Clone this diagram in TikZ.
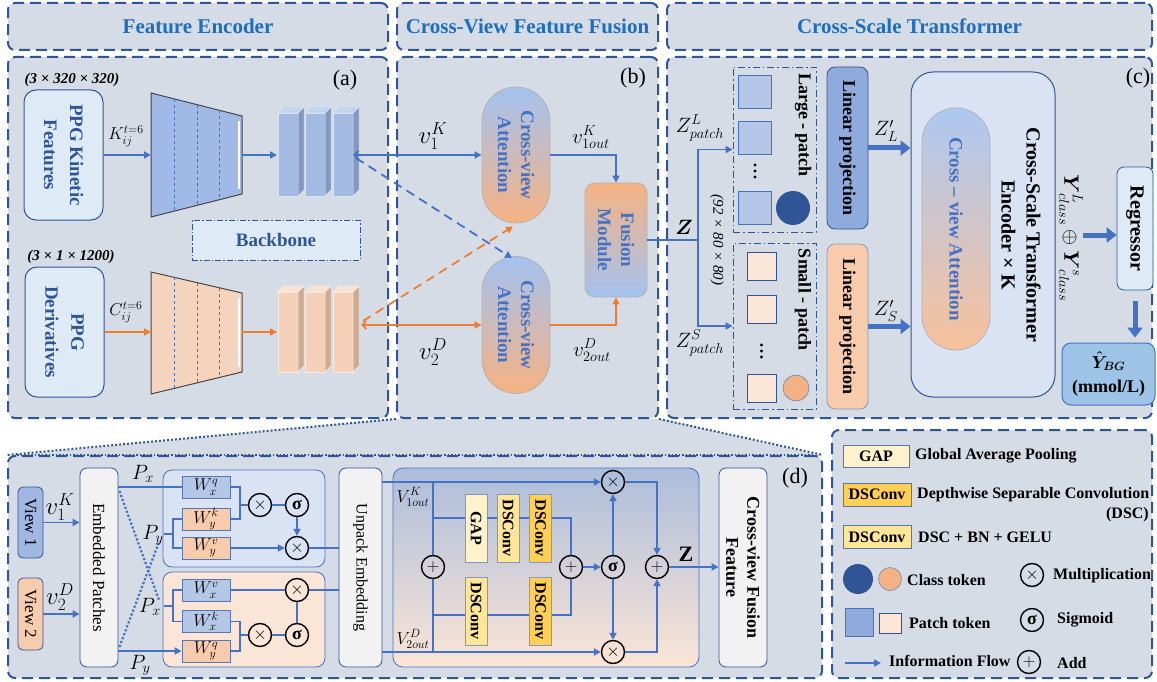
\documentclass[tikz,border=0pt]{standalone}
\usepackage{amsmath}
\usepackage{fontspec}
\setmainfont{Liberation Serif}
\usetikzlibrary{arrows.meta,calc,positioning}

\definecolor{panelbg}{RGB}{214,220,230}
\definecolor{frame}{RGB}{47,85,151}
\definecolor{headblue}{RGB}{28,110,192}
\definecolor{flowblue}{RGB}{68,114,196}
\definecolor{floworange}{RGB}{237,125,49}
\definecolor{lightbox}{RGB}{222,235,247}
\definecolor{blueblk}{RGB}{163,186,226}
\definecolor{blueside}{RGB}{132,152,192}
\definecolor{bluetop}{RGB}{196,212,238}
\definecolor{orblk}{RGB}{244,208,184}
\definecolor{orside}{RGB}{205,170,148}
\definecolor{ortop}{RGB}{250,226,210}
\definecolor{trapblue}{RGB}{160,185,230}
\definecolor{traporange}{RGB}{245,212,190}
\definecolor{attblue}{RGB}{164,194,240}
\definecolor{attorange}{RGB}{246,178,130}
\definecolor{lpblue}{RGB}{143,170,220}
\definecolor{lporange}{RGB}{248,203,173}
\definecolor{sqblue}{RGB}{180,199,231}
\definecolor{sqorange}{RGB}{251,229,214}
\definecolor{clsorange}{RGB}{244,177,131}
\definecolor{encfill}{RGB}{218,227,243}
\definecolor{outfill}{RGB}{157,195,230}
\definecolor{gapfill}{RGB}{255,242,204}
\definecolor{dsclight}{RGB}{255,230,153}
\definecolor{dscdark}{RGB}{255,208,85}
\definecolor{paper}{RGB}{242,242,242}

\begin{document}
\begin{tikzpicture}[x=1pt,y=-1pt]
    \tikzstyle{panel} = [draw=frame, line width=2pt, dash pattern=on 11pt off 6pt, rounded corners=7pt, fill=panelbg, inner sep=0pt]
    \tikzstyle{hdr} = [font=\bfseries\fontsize{21}{24}\selectfont, text=headblue]
    \tikzstyle{ptag} = [font=\fontsize{22}{24}\selectfont, inner sep=0pt]
    \tikzstyle{inbox} = [draw=frame, line width=1pt, fill=lightbox, rounded corners=12pt]
    \tikzstyle{vtxt} = [rotate=-90, align=center, inner sep=0pt]
    \tikzstyle{flowB} = [draw=flowblue, line width=1.8pt, -{Triangle[length=7pt,width=7pt]}]
    \tikzstyle{flowO} = [draw=floworange, line width=1.8pt, -{Triangle[length=7pt,width=7pt]}]
    \tikzstyle{wire} = [draw=flowblue, line width=1.5pt]
    \tikzstyle{fat} = [draw=flowblue, line width=5pt, -{Triangle[length=10pt,width=15pt]}]
    \tikzstyle{lbl} = [font=\fontsize{18}{20}\selectfont, inner sep=0pt]
    \tikzstyle{op} = [circle, draw=black, line width=1.4pt, minimum size=23pt, inner sep=0pt, font=\fontsize{18}{18}\selectfont]
    \tikzstyle{wbox} = [draw=frame!80, line width=0.8pt, minimum width=48pt, minimum height=22pt, inner sep=0pt, font=\fontsize{18}{18}\selectfont]
    \tikzstyle{dsc} = [draw=frame!60, line width=0.8pt, minimum width=22pt, minimum height=68pt, inner sep=0pt]
    \tikzstyle{legtxt} = [anchor=west, font=\bfseries\fontsize{16}{18}\selectfont, inner sep=0pt]
    \tikzstyle{dashdot} = [draw=frame, line width=0.9pt, dash pattern=on 7pt off 3pt on 1.5pt off 3pt]

    \useasboundingbox (0,0) rectangle (1157,682);
    \fill[white] (0,0) rectangle (1157,682);

    % Headers .........................
    \node[panel, hdr, minimum width=380pt, minimum height=47pt] (hA) at (198,26.5) {Feature Encoder};
    \node[panel, hdr, minimum width=261pt, minimum height=47pt] (hB) at (527.5,26.5) {Cross-View Feature Fusion};
    \node[panel, hdr, minimum width=485pt, minimum height=47pt] (hC) at (909.5,26.5) {Cross-Scale Transformer};

    % Panels .........................
    \fill[panelbg] (397,419) -- (660,419) -- (822,456) -- (8,456) -- cycle;
    \node[panel, minimum width=380pt, minimum height=361pt] (pA) at (198,237.5) {};
    \node[panel, minimum width=261pt, minimum height=361pt] (pB) at (527.5,237.5) {};
    \node[panel, minimum width=485pt, minimum height=361pt] (pC) at (909.5,237.5) {};
    \node[panel, minimum width=814pt, minimum height=222pt] (pD) at (415,567) {};
    \node[panel, minimum width=320pt, minimum height=248pt] (pL) at (992,554) {};
    \draw[frame, line width=2pt, dotted] (pB.south west) -- (pD.north west);
    \draw[frame, line width=2pt, dotted] (pB.south east) -- (pD.north east);
    \draw[frame, line width=1.5pt, dotted] ($(pD.north west)+(10,0)$) -- ($(pD.north east)+(-10,0)$);

    \node[ptag] (tA) at (345,80) {(a)};
    \node[ptag] (tB) at (633,78) {(b)};
    \node[ptag] (tC) at (1138,78) {(c)};
    \node[ptag] (tD) at (795,478) {(d)};

    % Feature encoder (a) .........................
    \node[font=\bfseries\itshape\fontsize{15}{17}\selectfont] (dimK) at (72,80) {(3 × 320 × 320)};
    \node[font=\bfseries\itshape\fontsize{15}{17}\selectfont] (dimD) at (71,257) {(3 × 1 × 1200)};
    \node[inbox, minimum width=79pt, minimum height=130pt] (kin) at (63.5,155) {};
    \node[vtxt, text=frame, font=\bfseries\fontsize{19}{26}\selectfont] at (kin) {PPG Kinetic\\Features};
    \node[inbox, minimum width=79pt, minimum height=130pt] (der) at (64.5,332) {};
    \node[vtxt, text=frame, font=\bfseries\fontsize{19}{26}\selectfont] at (der) {PPG\\Derivatives};
    \node[draw=frame, line width=0.8pt, dash pattern=on 6pt off 2pt on 1.5pt off 2pt, fill=lightbox, minimum width=168pt, minimum height=40pt, text=frame, font=\bfseries\fontsize{19}{21}\selectfont] (bb) at (276,240) {Backbone};

    \coordinate (kA) at (151,93);  \coordinate (kB) at (242,116);
    \coordinate (kC) at (242,194); \coordinate (kD) at (151,217);
    \coordinate (dA) at (151,272); \coordinate (dB) at (242,293);
    \coordinate (dC) at (242,372); \coordinate (dD) at (151,394);
    \filldraw[fill=trapblue, draw=gray!55!black, line width=1pt] (kA) -- (kB) -- (kC) -- (kD) -- cycle;
    \filldraw[fill=traporange, draw=gray!55!black, line width=1pt] (dA) -- (dB) -- (dC) -- (dD) -- cycle;
    \draw[white, line width=1.5pt] ($(kB)+(-3,5)$) -- ($(kC)+(-3,-5)$);
    \draw[white, line width=1.5pt] ($(dB)+(-3,5)$) -- ($(dC)+(-3,-5)$);
    \foreach \t in {0.26,0.51,0.75} {
        \draw[flowblue, dashed, line width=0.6pt] ($(kA)!\t!(kB)$) -- ($(kD)!\t!(kC)$);
        \draw[flowblue, dashed, line width=0.6pt] ($(dA)!\t!(dB)$) -- ($(dD)!\t!(dC)$);
    }

    \foreach \x in {278,305,333} {
        \filldraw[fill=blueblk, draw=white!60!blueblk, line width=0.5pt] (\x,113) rectangle ++(20,83);
        \filldraw[fill=blueside, draw=white!60!blueblk, line width=0.5pt] (\x+20,113) -- ++(6,-6) -- ++(0,83) -- ++(-6,6) -- cycle;
        \filldraw[fill=bluetop, draw=white!60!blueblk, line width=0.5pt] (\x,113) -- ++(6,-6) -- ++(20,0) -- ++(-6,6) -- cycle;
        \filldraw[fill=orblk, draw=white!60!orblk, line width=0.5pt] (\x,292) rectangle ++(20,80);
        \filldraw[fill=orside, draw=white!60!orblk, line width=0.5pt] (\x+20,292) -- ++(6,-6) -- ++(0,80) -- ++(-6,6) -- cycle;
        \filldraw[fill=ortop, draw=white!60!orblk, line width=0.5pt] (\x,292) -- ++(6,-6) -- ++(20,0) -- ++(-6,6) -- cycle;
    }
    \coordinate (blkKin) at (277,155);  \coordinate (blkKout) at (353,155);
    \coordinate (blkDin) at (277,332);  \coordinate (blkDout) at (361,325);

    \draw[flowB] (kin.east) -- (kin.east -| kA);
    \draw[flowO] (der.east) -- (der.east -| dA);
    \draw[flowB] (kin.east -| kB) -- (blkKin);
    \draw[flowO] (der.east -| dB) -- (blkDin);
    \node[lbl, font=\fontsize{18}{20}\selectfont] (kLbl) at (126,136) {$K_{ij}^{t=6}$};
    \node[lbl, font=\fontsize{18}{20}\selectfont] (cLbl) at (126,312) {$C_{ij}^{t=6}$};

    % Cross-view fusion (b) .........................
    \node[draw=gray!60, line width=0.8pt, rounded corners=34pt, top color=attblue, bottom color=attorange, minimum width=68pt, minimum height=136pt] (cvaK) at (516,155) {};
    \node[vtxt, text=flowblue, font=\bfseries\fontsize{19}{23}\selectfont] at (cvaK) {Cross-view\\Attention};
    \node[draw=gray!60, line width=0.8pt, rounded corners=34pt, top color=attblue, bottom color=attorange, minimum width=68pt, minimum height=137pt] (cvaD) at (516,325) {};
    \node[vtxt, text=flowblue, font=\bfseries\fontsize{19}{23}\selectfont] at (cvaD) {Cross-view\\Attention};
    \node[draw=gray!60, line width=0.8pt, rounded corners=10pt, top color=attorange, bottom color=attblue, minimum width=62pt, minimum height=114pt] (fus) at (616,240) {};
    \node[vtxt, text=flowblue, font=\bfseries\fontsize{19}{23}\selectfont] at (fus) {Fusion\\Module};

    \draw[flowB, {Straight Barb[length=4pt,width=8pt]}-{Triangle[length=7pt,width=7pt]}] (blkKout) -- (blkKout -| cvaK.west);
    \draw[flowO, {Straight Barb[length=4pt,width=8pt]}-{Triangle[length=7pt,width=7pt]}] (blkDout) -- (blkDout -| cvaD.west);
    \draw[flowB, dash pattern=on 9pt off 6pt] ($(blkKout)+(3,3)$) -- ($(cvaD.north)+(-4,2)$);
    \draw[flowO, dash pattern=on 9pt off 6pt] ($(blkDout)+(2,-4)$) -- ($(cvaK.south)+(-3,3)$);
    \draw[flowB] (cvaK.east) -| (fus.north);
    \draw[flowO] (cvaD.east) -| (fus.south);
    \node[lbl, font=\fontsize{25}{27}\selectfont] (v1) at (433,136) {$v_1^K$};
    \node[lbl, font=\fontsize{25}{27}\selectfont] (v2) at (433,352) {$v_2^D$};
    \node[lbl, font=\fontsize{22}{24}\selectfont] (v1o) at (591,137) {$v_{1out}^K$};
    \node[lbl, font=\fontsize{22}{24}\selectfont] (v2o) at (592,350) {$v_{2out}^D$};

    % Cross-scale transformer (c) .........................
    \node[dashdot, minimum width=83pt, minimum height=165pt] (lpatch) at (774.5,149.5) {};
    \node[dashdot, minimum width=83pt, minimum height=166pt] (spatch) at (774.5,326) {};
    \coordinate (zSplit) at (698,240);
    \draw[wire] (fus.east) -- (zSplit);
    \draw[flowB] (zSplit) |- (lpatch.west);
    \draw[flowB] (zSplit) |- (spatch.west);
    \node[lbl, font=\fontsize{22}{24}\selectfont] (zLbl) at (684,227) {$\boldsymbol{Z}$};
    \node[lbl, font=\fontsize{21}{23}\selectfont] (zpL) at (700,128) {$Z^L_{patch}$};
    \node[lbl, font=\fontsize{21}{23}\selectfont] (zpS) at (700,343) {$Z^S_{patch}$};
    \node[vtxt, font=\itshape\fontsize{15}{17}\selectfont] (dimZ) at (717,240) {(92 × 80 × 80)};

    \foreach \y/\n in {92/1,138/2,208/3}
        \node[draw=flowblue, line width=0.8pt, fill=sqblue, minimum size=33pt, inner sep=0pt] (sqL\n) at (755,\y) {};
    \foreach \d in {-6,0,6} {
        \fill (755,171+\d) circle (1.7pt);
        \fill (761.5,351+\d) circle (1.7pt);
    }
    \node[circle, fill=frame, minimum size=34pt, inner sep=0pt] (clsL) at (793,208) {};
    \node[vtxt, font=\bfseries\fontsize{18}{20}\selectfont] at (803,125) {Large - patch};
    \foreach \y/\n in {266/1,309.5/2,388.5/3}
        \node[draw=frame, line width=0.8pt, fill=sqorange, minimum width=29pt, minimum height=28pt, inner sep=0pt] (sqS\n) at (761.5,\y) {};
    \node[circle, draw=frame!70, line width=0.6pt, fill=clsorange, minimum size=26pt, inner sep=0pt] (clsS) at (796,388) {};
    \node[vtxt, font=\bfseries\fontsize{18}{20}\selectfont] at (803,300) {Small - patch};

    \node[draw=frame, line width=0.8pt, fill=lpblue, rounded corners=8pt, minimum width=41pt, minimum height=162pt] (lpL) at (847.5,148) {};
    \node[vtxt, font=\bfseries\fontsize{18}{20}\selectfont] at (lpL) {Linear projection};
    \node[draw=frame!60, line width=0.8pt, fill=lporange, rounded corners=8pt, minimum width=41pt, minimum height=165pt] (lpS) at (847.5,326.5) {};
    \node[vtxt, font=\bfseries\fontsize{18}{20}\selectfont] at (lpS) {Linear projection};

    \node[draw=frame, line width=1pt, fill=encfill, rounded corners=22pt, minimum width=144pt, minimum height=325pt] (enc) at (983,234.5) {};
    \node[draw=gray!60, line width=0.8pt, rounded corners=34pt, top color=attblue!90, middle color=encfill!60!white, bottom color=attorange!80, minimum width=68pt, minimum height=242pt] (cvaIn) at (956,229) {};
    \node[vtxt, text=flowblue, font=\bfseries\fontsize{19}{21}\selectfont] at (cvaIn) {Cross – view Attention};
    \node[vtxt, font=\bfseries\fontsize{20}{25}\selectfont] at (1021,235) {Cross-Scale Transformer\\Encoder × K};

    \draw[fat] (lpL.east) -- (lpL.east -| enc.west);
    \draw[fat] (lpS.east) -- (lpS.east -| enc.west);
    \node[lbl, font=\fontsize{20}{22}\selectfont] (zL) at (886,131) {$Z'_L$};
    \node[lbl, font=\fontsize{20}{22}\selectfont] (zS) at (886,311) {$Z'_S$};

    \node[vtxt, font=\fontsize{22}{24}\selectfont] (ycls) at (1071,238) {$\boldsymbol{Y}^{L}_{class}\oplus \boldsymbol{Y}^{s}_{class}$};
    \node[draw=frame, line width=0.8pt, fill=lightbox, rounded corners=7pt, minimum width=36pt, minimum height=123pt] (reg) at (1135,228.5) {};
    \node[vtxt, font=\bfseries\fontsize{20}{22}\selectfont] at (reg) {Regressor};
    \node[draw=flowblue, line width=1pt, fill=outfill, rounded corners=9pt, minimum width=93pt, minimum height=62pt, align=center, font=\bfseries\fontsize{18}{24}\selectfont] (out) at (1108.5,374) {$\boldsymbol{\hat{Y}_{BG}}$\\(mmol/L)};
    \coordinate (yEnd) at (1083,235);
    \draw[fat] (yEnd) -- (yEnd -| reg.west);
    \draw[fat, shorten <=11pt, shorten >=5pt] (reg.south) -- (reg.south |- out.north);

    % Detail of the fusion (d) .........................
    \node[draw=frame, line width=0.8pt, fill=lpblue!85!white, rounded corners=5pt, minimum width=25pt, minimum height=71pt] (view1) at (30.5,522.5) {};
    \node[vtxt, font=\fontsize{17}{19}\selectfont] at (view1) {View 1};
    \node[draw=frame, line width=0.8pt, fill=lporange, rounded corners=5pt, minimum width=25pt, minimum height=72pt] (view2) at (30.5,614) {};
    \node[vtxt, font=\fontsize{17}{19}\selectfont] at (view2) {View 2};
    \node[draw=frame, line width=0.8pt, fill=paper, rounded corners=7pt, minimum width=38pt, minimum height=199pt] (emb) at (99,567.5) {};
    \node[vtxt, font=\fontsize{17}{19}\selectfont] at (emb) {Embedded Patches};
    \draw[flowB] (view1.east) -- (view1.east -| emb.west);
    \draw[flowB] (view2.east) -- (view2.east -| emb.west);
    \node[lbl, font=\fontsize{24}{26}\selectfont] (dv1) at (60,507) {$v_1^K$};
    \node[lbl, font=\fontsize{24}{26}\selectfont] (dv2) at (60,597) {$v_2^D$};

    \node[draw=flowblue, line width=0.8pt, fill=encfill, rounded corners=9pt, minimum width=162pt, minimum height=97pt] (attU) at (244,518.5) {};
    \node[draw=flowblue, line width=0.8pt, fill=sqorange, rounded corners=9pt, minimum width=162pt, minimum height=95pt] (attL) at (244,619.5) {};
    \node[wbox, fill=sqblue] (wxq) at (206,487) {$W_x^q$};
    \node[wbox, fill=lporange] (wyk) at (206,519) {$W_y^k$};
    \node[wbox, fill=lporange] (wyv) at (206,548) {$W_y^v$};
    \node[wbox, fill=sqblue] (wxv) at (206,590) {$W_x^v$};
    \node[wbox, fill=sqblue] (wxk) at (206,621.5) {$W_x^k$};
    \node[wbox, fill=lporange] (wyq) at (206,651) {$W_y^q$};
    \node[op] (mU1) at (260,505) {$\times$};
    \node[op] (sU) at (297,505) {\bfseries σ};
    \node[op] (mU2) at (297,548) {$\times$};
    \node[op] (mL1) at (297,590) {$\times$};
    \node[op] (mL2) at (260,635) {$\times$};
    \node[op] (sL) at (297,635) {\bfseries σ};
    \node[draw=frame, line width=0.8pt, fill=paper, rounded corners=7pt, minimum width=43pt, minimum height=199pt] (unp) at (360.5,567.5) {};
    \node[vtxt, font=\fontsize{16}{18}\selectfont] at (unp) {Unpack Embedding};

    \coordinate (jU) at (240,505);  \coordinate (jL) at (240,635);
    \coordinate (fU) at (173,534);  \coordinate (fL) at (173,606);
    \draw[wire] (wxq.east) -| (jU) |- (wyk.east);
    \draw[wire] (jU) -- (mU1);
    \draw[wire] (mU1) -- (sU);
    \draw[flowB] (sU) -- (mU2);
    \draw[flowB] (wyv.east) -- (mU2);
    \draw[wire] (mU2) -- (mU2 -| unp.west);
    \draw[wire] (wxk.east) -| (jL) |- (wyq.east);
    \draw[wire] (jL) -- (mL2);
    \draw[wire] (mL2) -- (sL);
    \draw[wire] (sL) -- (mL1);
    \draw[wire] (wxv.east) -- (mL1);
    \draw[wire] (mL1) -- (mL1 -| unp.west);
    \draw[wire] (wyk.west) -| (fU) |- (wyv.west);
    \draw[wire] (wxv.west) -| (fL) |- (wxk.west);
    \draw[wire] ($(fU)+(-9,0)$) -- (fU);
    \draw[wire] ($(fL)+(-9,0)$) -- (fL);
    \draw[wire] (emb.east |- wxq.west) -- (wxq.west);
    \draw[flowB] (emb.east |- wyq.west) -- (wyq.west);
    \draw[flowblue, line width=2.2pt, dotted] ($(emb.east |- wxq.west)+(1,4)$) -- ($(fL)+(-14,-6)$);
    \draw[flowblue, line width=2.2pt, dotted] ($(emb.east |- wyq.west)+(1,-4)$) -- ($(fU)+(-14,8)$);
    \node[lbl, font=\fontsize{20}{22}\selectfont] (px1) at (143,474) {$P_x$};
    \node[lbl, font=\fontsize{20}{22}\selectfont] (py1) at (153,535) {$P_y$};
    \node[lbl, font=\fontsize{20}{22}\selectfont] (px2) at (150,607) {$P_x$};
    \node[lbl, font=\fontsize{20}{22}\selectfont] (py2) at (140,665) {$P_y$};

    \node[draw=flowblue, line width=0.8pt, rounded corners=10pt, top color=sqblue!95!black, bottom color=sqorange, minimum width=306pt, minimum height=199pt] (fbox) at (546,567.5) {};
    \node[dsc, fill=gapfill] (gap) at (476,528) {};
    \node[vtxt, font=\bfseries\fontsize{16}{18}\selectfont] at (gap) {GAP};
    \node[dsc, fill=dsclight] (ds1) at (508,528) {};
    \node[vtxt, font=\bfseries\fontsize{16}{18}\selectfont] at (ds1) {DSConv};
    \node[dsc, fill=dscdark] (ds2) at (540.5,528) {};
    \node[vtxt, font=\bfseries\fontsize{16}{18}\selectfont] at (ds2) {DSConv};
    \node[dsc, fill=dsclight] (ds3) at (476,611) {};
    \node[vtxt, font=\bfseries\fontsize{16}{18}\selectfont] at (ds3) {DSConv};
    \node[dsc, fill=dscdark] (ds4) at (540.5,611) {};
    \node[vtxt, font=\bfseries\fontsize{16}{18}\selectfont] at (ds4) {DSConv};
    \node[op] (pA) at (433,567) {$+$};
    \node[op] (pB) at (571,567) {$+$};
    \node[op] (sM) at (613,567) {\bfseries σ};
    \node[op] (mT) at (613,482) {$\times$};
    \node[op] (mB) at (613,652) {$\times$};
    \node[op] (pC) at (657,567) {$+$};
    \node[draw=frame, line width=0.8pt, fill=paper, rounded corners=7pt, minimum width=48pt, minimum height=199pt] (cff) at (743,567.5) {};
    \node[vtxt, font=\bfseries\fontsize{18}{21}\selectfont] at (cff) {Cross-view Fusion\\Feature};

    \coordinate (brT) at (433,518);  \coordinate (brB) at (433,615);
    \draw[flowB] (unp.east |- mT) -- (mT);
    \draw[flowB] (unp.east |- mB) -- (mB);
    \draw[wire] (pA |- mT) -- (pA);
    \draw[wire] (pA) -- (pA |- mB);
    \draw[wire] (brT) -- (brT -| gap.west);
    \draw[wire] (gap.east |- brT) -- (ds1.west |- brT);
    \draw[wire] (ds1.east |- brT) -- (ds2.west |- brT);
    \draw[wire] (ds2.east |- brT) -| (pB);
    \draw[wire] (brB) -- (brB -| ds3.west);
    \draw[wire] (ds3.east |- brB) -- (ds4.west |- brB);
    \draw[wire] (ds4.east |- brB) -| (pB);
    \draw[flowB] (pB) -- (sM);
    \draw[flowB] (sM) -- (mT);
    \draw[flowB] (sM) -- (mB);
    \draw[flowB] (mT) -| (pC);
    \draw[flowB] (mB) -| (pC);
    \draw[flowB] (pC) -- (cff.west |- pC);
    \node[lbl, font=\bfseries\fontsize{22}{24}\selectfont] (zOut) at (686,554) {Z};
    \node[lbl, font=\fontsize{18}{20}\selectfont] (vko) at (413,497) {$V_{1out}^K$};
    \node[lbl, font=\fontsize{18}{20}\selectfont] (vdo) at (413,639) {$V_{2out}^D$};

    % Legend .........................
    \node[draw=frame!80, line width=0.8pt, fill=gapfill, minimum width=66pt, minimum height=22pt, font=\bfseries\fontsize{16}{18}\selectfont] (lgap) at (876,456) {GAP};
    \node[legtxt] at (915,456) {Global Average Pooling};
    \node[draw=frame!80, line width=0.8pt, fill=dscdark, minimum width=68pt, minimum height=23pt, font=\bfseries\fontsize{16}{18}\selectfont] (lds1) at (877,494.5) {DSConv};
    \node[legtxt] at (917,494.5) {Depthwise Separable Convolution};
    \node[legtxt, anchor=east] at (1149,515) {(DSC)};
    \node[draw=frame!80, line width=0.8pt, fill=dsclight, minimum width=68pt, minimum height=23pt, font=\bfseries\fontsize{16}{18}\selectfont] (lds2) at (877,537) {DSConv};
    \node[legtxt] at (918,537) {DSC + BN + GELU};
    \node[circle, fill=frame, minimum size=30pt, inner sep=0pt] (lcB) at (858,579) {};
    \node[circle, draw=frame!70, line width=0.6pt, fill=clsorange, minimum size=23pt, inner sep=0pt] (lcO) at (890,579) {};
    \node[legtxt] at (907,580) {Class token};
    \node[op] (lmul) at (1032,575) {$\times$};
    \node[legtxt] at (1053,576) {Multiplication};
    \node[draw=flowblue, line width=0.8pt, fill=lpblue, minimum size=28pt, inner sep=0pt] (lsqB) at (859,622) {};
    \node[draw=frame, line width=0.8pt, fill=sqorange, minimum width=22pt, minimum height=20pt, inner sep=0pt] (lsqO) at (890,623) {};
    \node[legtxt] at (909,623) {Patch token};
    \node[op] (lsig) at (1032,620) {\bfseries σ};
    \node[legtxt] at (1057,620) {Sigmoid};
    \coordinate (lfa) at (845,663);  \coordinate (lfb) at (881,663);
    \draw[flowB] (lfa) -- (lfb);
    \node[legtxt] at (889,661) {Information Flow};
    \node[op] (ladd) at (1029,662) {$+$};
    \node[legtxt] at (1057,663) {Add};
\end{tikzpicture}
\end{document}
